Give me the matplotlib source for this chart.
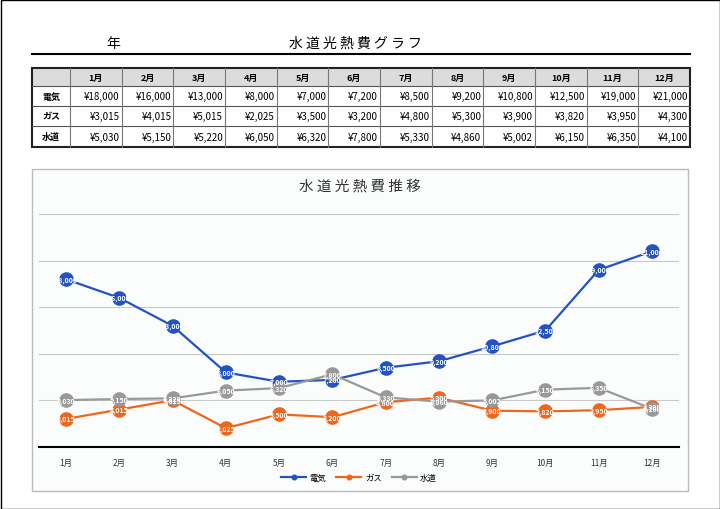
import matplotlib.pyplot as plt
from matplotlib.patches import Rectangle
import numpy as np

plt.rcParams['font.family'] = ['Noto Sans CJK JP', 'DejaVu Sans']

months = ['1月', '2月', '3月', '4月', '5月', '6月', '7月', '8月', '9月', '10月', '11月', '12月']
items = ['電気', 'ガス', '水道']
denki = [18000, 16000, 13000, 8000, 7000, 7200, 8500, 9200, 10800, 12500, 19000, 21000]
gas = [3015, 4015, 5015, 2025, 3500, 3200, 4800, 5300, 3900, 3820, 3950, 4300]
suido = [5030, 5150, 5220, 6050, 6320, 7800, 5330, 4860, 5002, 6150, 6350, 4100]
colors = ['#2253C3', '#F0661C', '#999999']

W, H = 720, 510
fig = plt.figure(figsize=(7.2, 5.1), dpi=100)
fig.patch.set_facecolor('white')

# full-page overlay in pixel coords
bg = fig.add_axes([0, 0, 1, 1])
bg.set_xlim(0, W)
bg.set_ylim(H, 0)
bg.axis('off')
bg.add_patch(Rectangle((0.5, 0.5), W - 1, H - 1, fill=False, ec='black', lw=1))

# page header
bg.text(113, 44, '年', fontsize=10, ha='center', va='center')
bg.text(355, 44, '水 道 光 熱 費 グ ラ フ', fontsize=10, ha='center', va='center')
bg.plot([32, 690], [55, 55], color='black', lw=1.5)

# table
x0, x1 = 32, 690
first_w = 38
col_w = (x1 - x0 - first_w) / len(months)
row_y = [69, 87, 107, 127, 148]
bg.add_patch(Rectangle((x0, row_y[0]), x1 - x0, row_y[1] - row_y[0], fc='#DCDCDC', ec='none'))
for y in row_y[1:-1]:
    bg.plot([x0, x1], [y, y], color='#555555', lw=0.8)
for i in range(len(months)):
    xx = x0 + first_w + i * col_w
    bg.plot([xx, xx], [row_y[0], row_y[-1]], color='#777777', lw=0.8)
bg.add_patch(Rectangle((x0, row_y[0]), x1 - x0, row_y[-1] - row_y[0], fill=False, ec='#222222', lw=1.5))

for i, m in enumerate(months):
    cx = x0 + first_w + (i + 0.5) * col_w
    bg.text(cx, (row_y[0] + row_y[1]) / 2, m, fontsize=6.5, ha='center', va='center', fontweight='bold')
for r, (name, vals) in enumerate(zip(items, [denki, gas, suido])):
    cy = (row_y[r + 1] + row_y[r + 2]) / 2
    bg.text(x0 + first_w / 2, cy, name, fontsize=6.5, ha='center', va='center', fontweight='bold')
    for i, v in enumerate(vals):
        rx = x0 + first_w + (i + 1) * col_w - 2
        bg.text(rx, cy, '¥{:,}'.format(v), fontsize=7, ha='right', va='center')

# chart frame
bg.add_patch(Rectangle((32, 170), 656, 322, fc='#FBFDFC', ec='#BBBBBB', lw=1))
bg.text(360, 187, '水 道 光 熱 費 推 移', fontsize=10.5, ha='center', va='center', color='#333333')

# line chart
ax = fig.add_axes([39.4 / W, (H - 448) / H, (678.6 - 39.4) / W, (448 - 215) / H])
ax.set_facecolor('none')
x = np.arange(len(months))
for vals, c, name in zip([denki, gas, suido], colors, items):
    ax.plot(x, vals, color=c, lw=1.6, marker='o', markersize=9.5, label=name, zorder=3)
    for xi, v in zip(x, vals):
        ax.text(xi, v, '{:,}'.format(v), fontsize=5, color='white', ha='center', va='center',
                fontweight='bold', zorder=4)

ax.set_xlim(-0.5, len(months) - 0.5)
ax.set_ylim(0, 25000)
ax.set_yticks([5000, 10000, 15000, 20000, 25000])
ax.set_yticklabels([])
ax.grid(axis='y', color='#C8C8C8', lw=0.8)
ax.set_axisbelow(True)
ax.tick_params(axis='y', length=0)
ax.set_xticks(x)
ax.set_xticklabels(months, fontsize=6, color='#333333')
ax.tick_params(axis='x', length=0, pad=8)
for s in ['top', 'right', 'left']:
    ax.spines[s].set_visible(False)
ax.spines['bottom'].set_linewidth(1.5)
ax.spines['bottom'].set_color('black')

leg = ax.legend(loc='center', bbox_to_anchor=(0.5, (448 - 478) / (448 - 215)), ncol=3,
                frameon=False, fontsize=6, handlelength=3, markerscale=0.35, columnspacing=1.2,
                handletextpad=0.4)

fig.savefig('out.png', dpi=100)
